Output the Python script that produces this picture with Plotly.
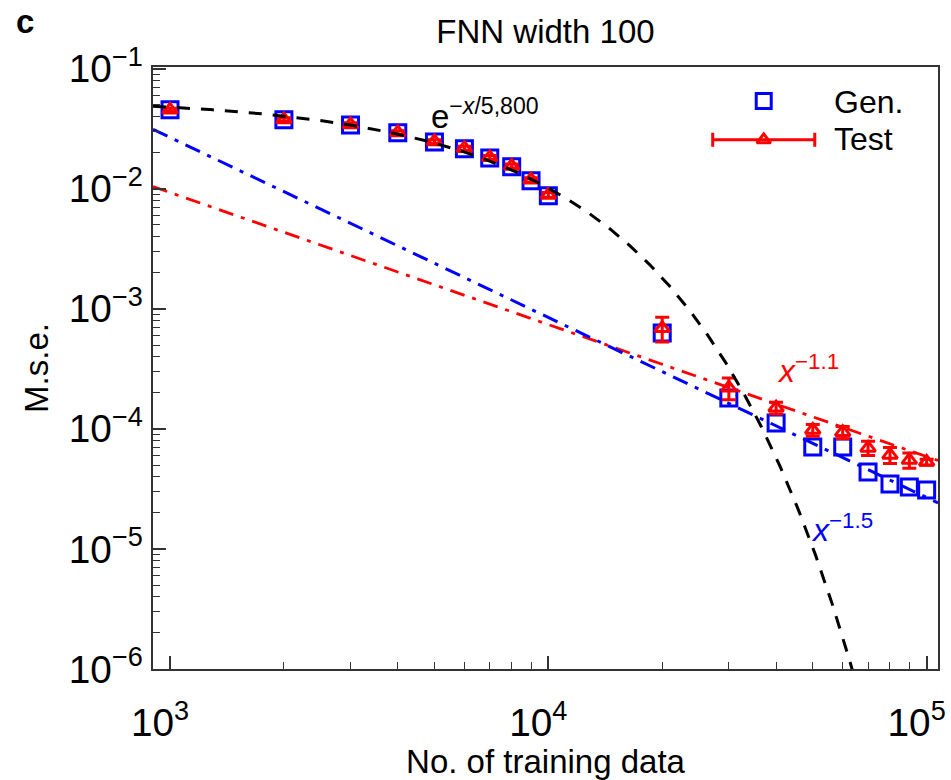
import numpy as np
import plotly.graph_objects as go

# Training-set sizes
n_train = [1000, 2000, 3000, 4000, 5000, 6000, 7000, 8000, 9000, 10000,
           20000, 30000, 40000, 50000, 60000, 70000, 80000, 90000, 100000]

# Generalisation error (blue squares)
gen_mse = [0.0455, 0.0376, 0.0341, 0.0293, 0.0246, 0.0216, 0.0181, 0.0153, 0.0117, 0.00874,
           6.3e-4, 1.81e-4, 1.12e-4, 7.08e-5, 7.08e-5, 4.38e-5, 3.48e-5, 3.29e-5, 3.1e-5]

# Test error (red triangles) with its uncertainty
test_mse = [0.0455, 0.0378, 0.0343, 0.0295, 0.0248, 0.0218, 0.0183, 0.0155, 0.0119, 0.0089,
            6.9e-4, 2.2e-4, 1.5e-4, 9.8e-5, 9.4e-5, 6.95e-5, 6.07e-5, 5.5e-5, 5.3e-5]
test_err = [0.0015, 0.0013, 0.0012, 0.0010, 0.0009, 0.0008, 0.0007, 0.0006, 0.0005, 0.0004,
            1.6e-4, 0.45e-4, 0.17e-4, 1.1e-5, 1.1e-5, 0.95e-5, 0.93e-5, 0.8e-5, 0.3e-5]

# Fitted trends
exp_amp, exp_scale = 0.057, 5800.0
pow15_coef, pow15_exp = 848.0, -1.5
pow11_coef, pow11_exp = 18.6, -1.1

x_range_log = [2.955, 5.03]
y_range_log = [-6.0, -0.985]

xf = np.logspace(x_range_log[0], x_range_log[1], 600)
y_exp = exp_amp * np.exp(-xf / exp_scale)
y_exp = np.where(y_exp > 10 ** y_range_log[0] * 0.5, y_exp, np.nan)
y_p15 = pow15_coef * xf ** pow15_exp
y_p11 = pow11_coef * xf ** pow11_exp

BLUE = "#0000ff"
RED = "#ff0000"
FONT = "Liberation Sans, Arial, Helvetica, sans-serif"

fig = go.Figure()

fig.add_trace(go.Scatter(
    x=n_train, y=gen_mse, mode="markers", name="Gen.",
    marker=dict(symbol="square-open", size=16, color=BLUE, line=dict(width=3, color=BLUE)),
    showlegend=False))

fig.add_trace(go.Scatter(
    x=n_train, y=test_mse, mode="markers", name="Test",
    marker=dict(symbol="triangle-up-open", size=13, color=RED, line=dict(width=3, color=RED)),
    error_y=dict(type="data", array=test_err, visible=True, color=RED, thickness=3, width=7),
    showlegend=False))

fig.add_trace(go.Scatter(
    x=xf, y=y_p11, mode="lines",
    line=dict(color=RED, width=2.8, dash="15px,8px,4px,8px"), showlegend=False))
fig.add_trace(go.Scatter(
    x=xf, y=y_p15, mode="lines",
    line=dict(color=BLUE, width=3, dash="16px,8px,4px,8px"), showlegend=False))
fig.add_trace(go.Scatter(
    x=xf, y=y_exp, mode="lines",
    line=dict(color="black", width=3, dash="13px,11px"), showlegend=False))

# Legend glyphs on an overlay axis spanning [0, 1]
fig.add_trace(go.Scatter(
    x=[0.778], y=[0.9435], mode="markers", xaxis="x2", yaxis="y2",
    marker=dict(symbol="square-open", size=15, color=BLUE, line=dict(width=3, color=BLUE)),
    showlegend=False, hoverinfo="skip"))
fig.add_trace(go.Scatter(
    x=[0.778], y=[0.879], mode="markers", xaxis="x2", yaxis="y2",
    marker=dict(symbol="triangle-up-open", size=12, color=RED, line=dict(width=3, color=RED)),
    error_x=dict(type="constant", value=0.065, color=RED, thickness=3, width=7),
    showlegend=False, hoverinfo="skip"))

annotations = [
    dict(x=0.865, y=0.942, xref="paper", yref="paper", text="Gen.", showarrow=False,
         xanchor="left", yanchor="middle", font=dict(size=32, color="black", family=FONT)),
    dict(x=0.865, y=0.88, xref="paper", yref="paper", text="Test", showarrow=False,
         xanchor="left", yanchor="middle", font=dict(size=32, color="black", family=FONT)),
    dict(x=3.685, y=-1.567, xref="x", yref="y",
         text="e<sup>−<i>x</i>/5,800</sup>", showarrow=False, xanchor="left", yanchor="bottom",
         font=dict(size=33, color="black", family=FONT)),
    dict(x=4.6, y=-3.683, xref="x", yref="y",
         text="<i>x</i><sup>−1.1</sup>", showarrow=False, xanchor="left", yanchor="bottom",
         font=dict(size=32, color=RED, family=FONT)),
    dict(x=4.69, y=-5.01, xref="x", yref="y",
         text="<i>x</i><sup>−1.5</sup>", showarrow=False, xanchor="left", yanchor="bottom",
         font=dict(size=32, color=BLUE, family=FONT)),
    dict(x=-0.163, y=1.075, xref="paper", yref="paper", text="<b>c</b>", showarrow=False,
         xanchor="center", yanchor="middle", font=dict(size=33, color="black", family=FONT)),
]

axis_common = dict(
    type="log", showgrid=False, zeroline=False, automargin=False,
    showline=True, linecolor="#333333", linewidth=2, mirror=True,
    ticks="inside", ticklen=13, tickwidth=1.5, tickcolor="#333333",
    dtick=1, exponentformat="power", ticklabeloverflow="allow",
    tickfont=dict(size=31, color="black", family=FONT),
    minor=dict(ticks="inside", ticklen=7, tickwidth=1.2, tickcolor="#333333", dtick="D1"),
)

fig.update_layout(
    width=951, height=780,
    margin=dict(l=153, r=13, t=67, b=111),
    paper_bgcolor="white", plot_bgcolor="white",
    font=dict(family=FONT, color="black"),
    title=dict(text="FNN width 100", x=0.5, xanchor="center", y=0.96, yanchor="middle",
               xref="paper", font=dict(size=33, color="black", family=FONT)),
    xaxis=dict(range=x_range_log, ticklabelstandoff=20, ticklabelshift=-10,
               title=dict(text="No. of training data", standoff=20,
                          font=dict(size=33, color="black", family=FONT)),
               **axis_common),
    yaxis=dict(range=y_range_log, ticklabelstandoff=2,
               title=dict(text="M.s.e.", standoff=10,
                          font=dict(size=33, color="black", family=FONT)),
               **axis_common),
    xaxis2=dict(overlaying="x", range=[0, 1], visible=False),
    yaxis2=dict(overlaying="y", range=[0, 1], visible=False),
    annotations=annotations,
    showlegend=False,
)

fig.write_html("out.html")
